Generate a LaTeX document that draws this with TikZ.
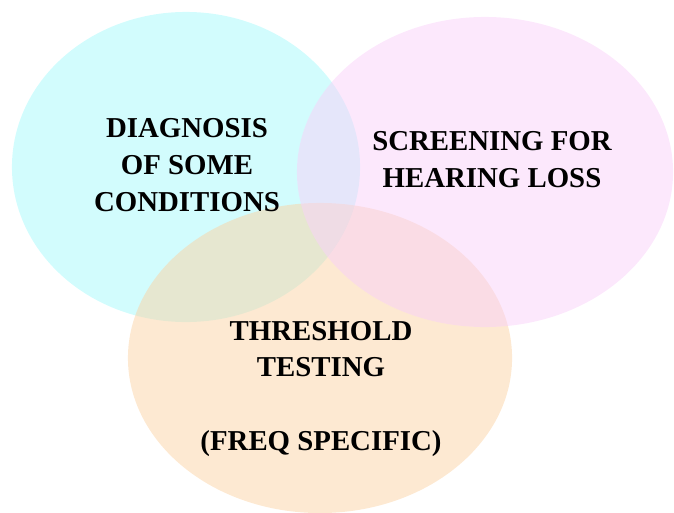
\documentclass[tikz,border=0pt]{standalone}
\usepackage{fontspec}
\setmainfont{Liberation Serif}
\usetikzlibrary{shapes.geometric}

\definecolor{diagcyan}{RGB}{165,249,251}
\definecolor{screenpink}{RGB}{249,209,249}
\definecolor{threshorange}{RGB}{251,211,165}

\begin{document}
\begin{tikzpicture}[
    x=0.025cm,
    y=-0.025cm,
    set/.style={
        ellipse,
        draw=none,
        fill opacity=0.5,
        inner sep=0pt,
        minimum height=7.75cm
    },
    diagset/.style={
        set,
        fill=diagcyan,
        minimum width=8.7cm
    },
    screenset/.style={
        set,
        fill=screenpink,
        minimum width=9.4cm
    },
    threshset/.style={
        set,
        fill=threshorange,
        minimum width=9.6cm
    },
    setlabel/.style={
        align=center,
        inner sep=0pt,
        font=\bfseries\fontsize{20.5}{26.3}\selectfont
    }
]
    \useasboundingbox (0,0) rectangle (674,512);

    % Sets
    \node[diagset] (diag) at (186,167) {};
    \node[threshset] (thresh) at (320,358) {};
    \node[screenset] (screen) at (485,172) {};

    % Labels
    \node[setlabel] (diaglabel) at (187,165) {DIAGNOSIS\\OF SOME\\CONDITIONS};
    \node[setlabel] (screenlabel) at (492,160) {SCREENING FOR\\HEARING LOSS};
    \node[setlabel] (threshlabel) at (321,389) {THRESHOLD\\TESTING\\[26.3pt](FREQ SPECIFIC)};

\end{tikzpicture}
\end{document}
